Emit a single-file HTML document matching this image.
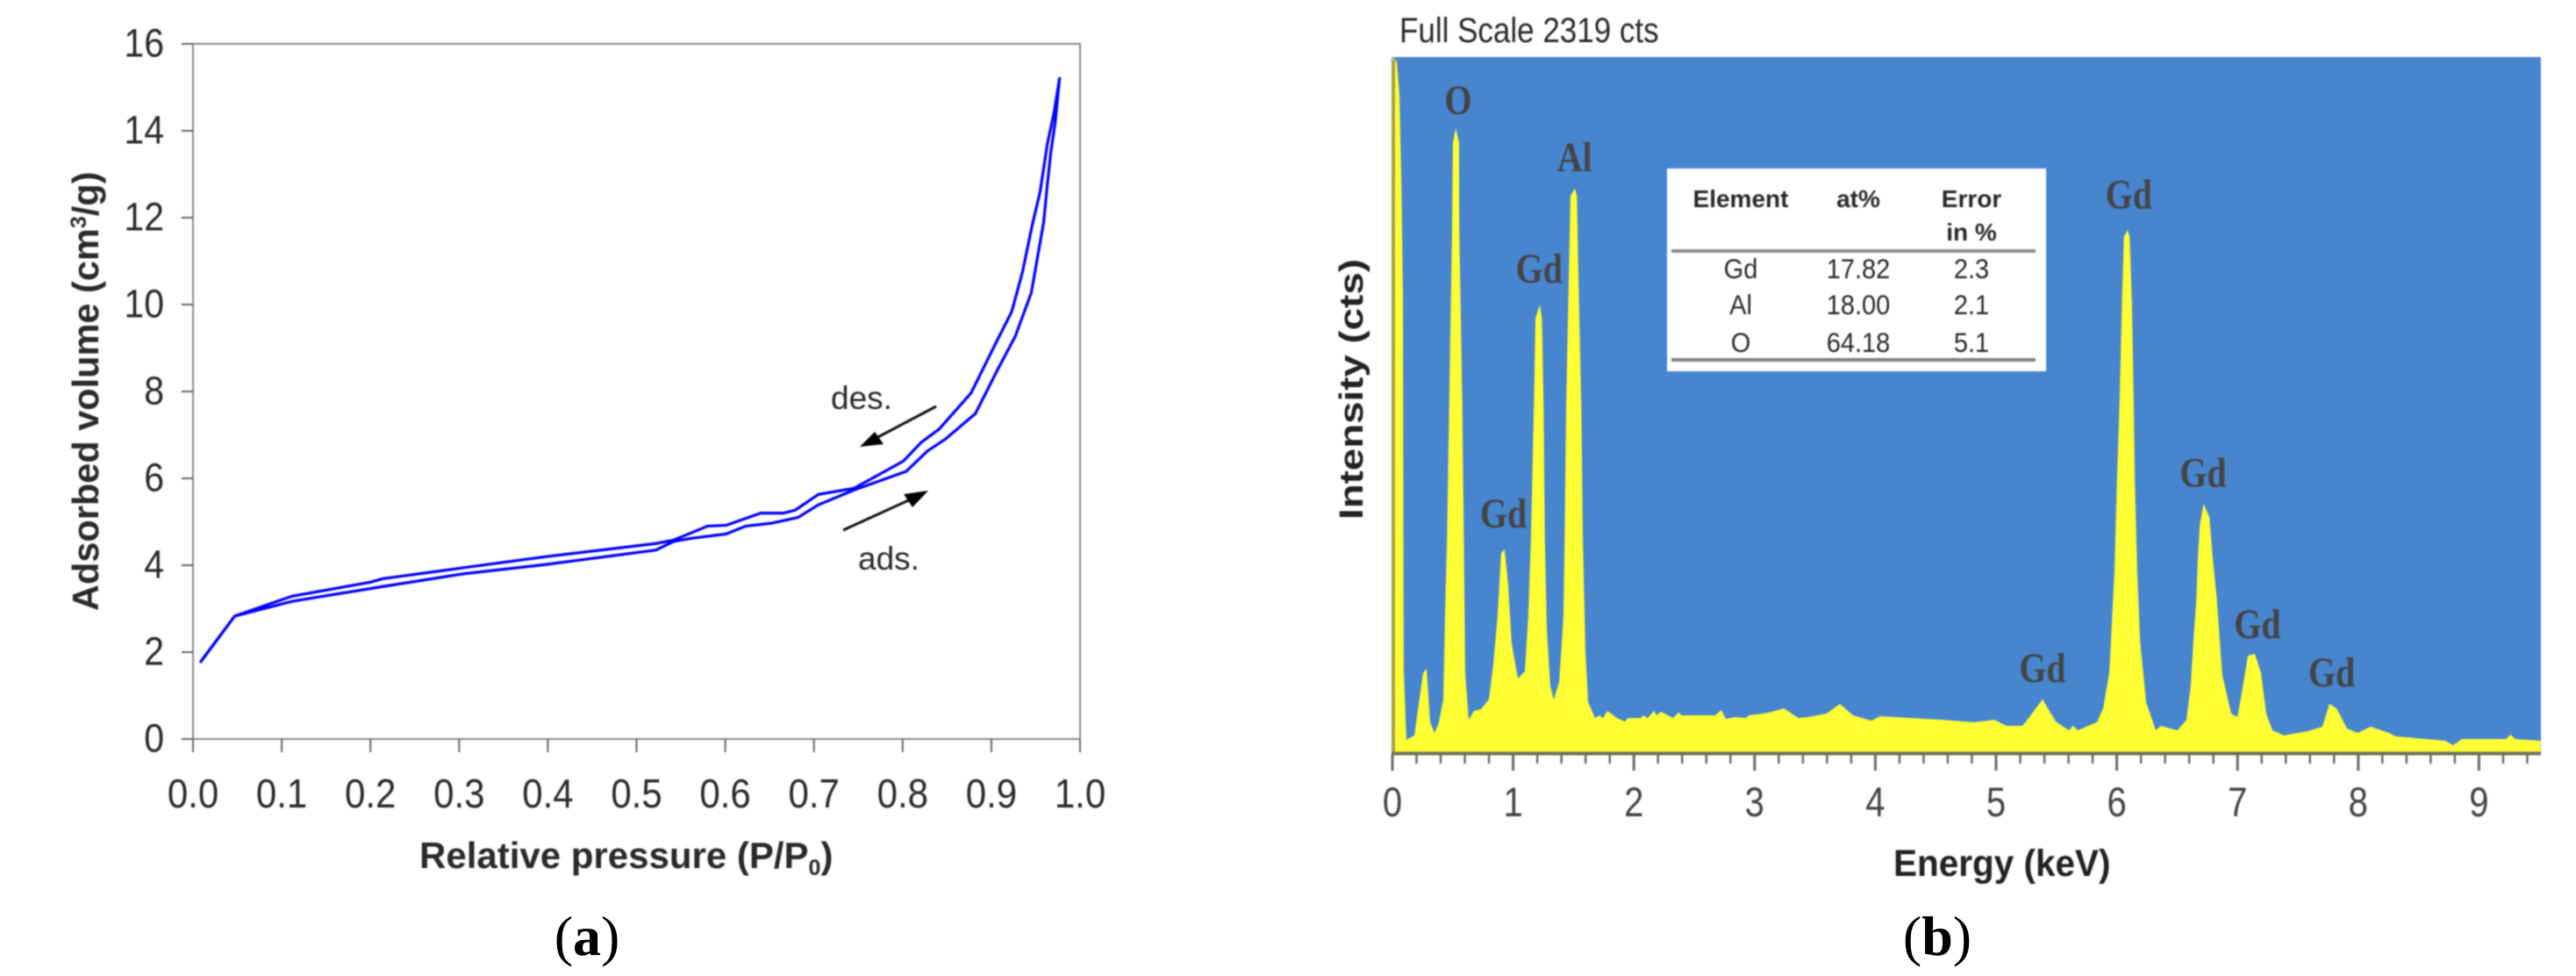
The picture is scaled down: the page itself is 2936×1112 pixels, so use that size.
<!DOCTYPE html>
<html lang="en">
<head>
<meta charset="utf-8">
<title>Adsorption isotherm and EDX spectrum</title>
<style>
html,body{margin:0;padding:0;background:#fff;}
svg{display:block;}
.soft{filter:blur(0.7px);}
text{font-family:"Liberation Sans",Arial,sans-serif;}
.serif{font-family:"Liberation Serif","Times New Roman",serif;}
</style>
</head>
<body>
<svg id="figure" xmlns="http://www.w3.org/2000/svg" width="2936" height="1112" viewBox="0 0 2936 1112">
  <rect x="0" y="0" width="2936" height="1112" fill="#ffffff"/>

  <g id="panelA" class="soft">
    <text transform="translate(112,696) rotate(-90)" font-size="41.5" font-weight="700" fill="#2a2a2a">Adsorbed volume (cm<tspan font-size="25" dy="-14">3</tspan><tspan dy="14">/g)</tspan></text>
    <text x="478" y="989" font-size="42" font-weight="700" fill="#2a2a2a">Relative pressure (P/P<tspan font-size="25" dy="8">0</tspan><tspan dy="-8">)</tspan></text>
    <text x="947" y="466" font-size="37" fill="#2a2a2a">des.</text>
    <text x="978" y="649" font-size="37" fill="#2a2a2a">ads.</text>
    <line x1="1067" y1="463" x2="995" y2="501" stroke="#111" stroke-width="3"/>
    <polygon points="980,509 997,492 1007,506" fill="#000"/>
    <line x1="961" y1="604" x2="1040" y2="568" stroke="#111" stroke-width="3"/>
    <polygon points="1058,559 1030,563 1040,578" fill="#000"/>
  </g>

  <g id="panelB" class="soft">
    <text transform="translate(1595,48) scale(1,1.15)" font-size="35" fill="#2a2a2a">Full Scale 2319 cts</text>
    <text x="0" y="0" transform="translate(1553,592) rotate(-90)" font-size="38" font-weight="700" fill="#222" textLength="297" lengthAdjust="spacingAndGlyphs">Intensity (cts)</text>
    <text transform="translate(2158,998) scale(1,1.05)" font-size="40.5" font-weight="700" fill="#222">Energy (keV)</text>
  </g>

  <text class="serif" x="669" y="1088" text-anchor="middle" font-size="64" fill="#000">(<tspan font-weight="700">a</tspan>)</text>
  <text class="serif" x="2208" y="1088" text-anchor="middle" font-size="64" fill="#000">(<tspan font-weight="700">b</tspan>)</text>
</svg>

<script>
// ---------- Isotherm data (panel a) ----------
const adsPressure = [0.008,0.047,0.112,0.214,0.304,0.399,0.522,0.542,0.562,0.601,0.623,0.653,0.682,0.705,0.745,0.804,0.828,0.848,0.882,0.907,0.927,0.945,0.953,0.959,0.963,0.967,0.972,0.977];
const adsVolume   = [1.76,2.83,3.17,3.51,3.80,4.02,4.35,4.55,4.62,4.72,4.90,4.97,5.10,5.39,5.73,6.16,6.63,6.90,7.49,8.50,9.27,10.27,11.20,11.90,12.74,13.50,14.20,15.23];
const desPressure = [0.008,0.047,0.112,0.200,0.214,0.304,0.399,0.522,0.542,0.580,0.601,0.640,0.666,0.679,0.705,0.745,0.771,0.801,0.821,0.841,0.877,0.903,0.923,0.935,0.946,0.955,0.963,0.971,0.977];
const desVolume   = [1.76,2.83,3.29,3.61,3.69,3.94,4.20,4.50,4.58,4.90,4.92,5.20,5.20,5.27,5.63,5.77,6.06,6.40,6.83,7.13,7.96,9.03,9.84,10.74,11.82,12.60,13.68,14.45,15.23];
const pressureTicks = ["0.0","0.1","0.2","0.3","0.4","0.5","0.6","0.7","0.8","0.9","1.0"];
const volumeTicks = ["0","2","4","6","8","10","12","14","16"];

// ---------- EDX spectrum data (panel b) ----------
const energyKeV = [0,.036,.058,.076,.087,.091,.094,.116,.182,.203,.254,.283,.313,.349,.385,.422,.436,.453,.470,.482,.494,.501,.525,.552,.554,.567,.579,.591,.603,.632,.676,.734,.799,.836,.872,.901,.93,.959,.988,1.039,1.097,1.126,1.148,1.172,1.185,1.221,1.238,1.252,1.262,1.279,1.308,1.337,1.381,1.403,1.417,1.427,1.439,1.459,1.475,1.512,1.528,1.543,1.565,1.577,1.599,1.621,1.679,1.715,1.744,1.781,1.86,1.926,1.948,2.057,2.078,2.115,2.166,2.188,2.224,2.326,2.369,2.398,2.674,2.725,2.762,2.834,2.929,2.951,3.074,3.147,3.241,3.365,3.438,3.597,3.706,3.815,3.968,4.041,4.557,4.818,4.985,5.087,5.218,5.276,5.385,5.494,5.603,5.64,5.676,5.836,5.887,5.938,5.952,5.981,6.001,6.025,6.042,6.059,6.09,6.107,6.126,6.139,6.15,6.169,6.193,6.243,6.323,6.366,6.504,6.577,6.613,6.635,6.659,6.672,6.689,6.72,6.768,6.793,6.829,6.853,6.875,6.948,6.999,7.035,7.086,7.144,7.195,7.238,7.289,7.384,7.58,7.703,7.762,7.82,7.907,7.994,8.103,8.256,8.307,8.721,8.786,8.859,9.229,9.259,9.302,9.51];
const intensityCts = [2319,2304,2196,1865,1514,752,275,41,56,117,264,278,100,64,100,176,460,723,1154,1446,1739,2032,2082,2032,1739,1446,1154,723,264,108,138,143,176,293,460,665,676,556,363,246,269,460,723,1154,1446,1493,1446,1154,723,410,220,176,234,363,457,723,1154,1543,1856,1880,1856,1543,1154,723,334,167,114,123,114,138,114,102,114,114,123,114,138,123,135,114,132,123,123,141,111,117,114,123,129,135,146,114,117,129,161,123,105,120,108,100,108,88,88,117,176,102,73,88,73,100,146,266,372,606,899,1192,1485,1719,1742,1719,1485,1192,899,606,372,167,73,88,73,108,225,372,509,656,761,829,782,656,509,372,255,129,117,196,322,328,264,129,73,56,70,85,161,146,79,64,85,64,53,38,23,44,44,59,44,38];
const energyTicks = ["0","1","2","3","4","5","6","7","8","9"];
const peakNames = ["O","Al","Gd","Gd","Gd","Gd","Gd","Gd","Gd"];
const peakEnergies = [0.545,1.51,1.215,0.92,5.385,6.10,6.715,7.165,7.78];
const peakLabelCts = [2129,1938,1567,750,234,1814,885,381,220];
const tableHeaders = ["Element","at%","Error"];
const tableElements = ["Gd","Al","O"];
const tableAtomic = ["17.82","18.00","64.18"];
const tableError = ["2.3","2.1","5.1"];

// ---------- Helpers ----------
const SVGNS = "http://www.w3.org/2000/svg";
function mk(tag, parent, props){
  const el = document.createElementNS(SVGNS, tag);
  for (const k in props) el.setAttribute(k, props[k]);
  parent.appendChild(el);
  return el;
}

// ---------- Panel A ----------
const panelA = document.getElementById("panelA");
const xA = p => 220 + p * 1011;
const yA = v => 842 - v * 49.5;

const frameA = mk("rect", panelA, {x:xA(0), y:yA(16), width:xA(1)-xA(0), height:yA(0)-yA(16), fill:"none", stroke:"#8a8a8a", "stroke-width":2});



volumeTicks.forEach(t => {
  const v = parseFloat(t);
  const tick = mk("line", panelA, {x1:207, x2:xA(0), y1:yA(v), y2:yA(v), stroke:"#666", "stroke-width":2});
  
  
  const lab = mk("text", panelA, {transform:`translate(187,${yA(v)+14.5}) scale(1,1.1)`, "text-anchor":"end", "font-size":41, fill:"#2a2a2a"});
  
  
  lab.textContent = t;
});
pressureTicks.forEach(t => {
  const p = parseFloat(t);
  const tick = mk("line", panelA, {x1:xA(p), x2:xA(p), y1:yA(0), y2:857, stroke:"#666", "stroke-width":2});
  
  
  const lab = mk("text", panelA, {transform:`translate(${xA(p)},920) scale(1,1.1)`, "text-anchor":"middle", "font-size":42, fill:"#2a2a2a"});
  
  
  lab.textContent = t;
});

const adsLine = mk("polyline", panelA, {points:adsPressure.map((p,i)=>xA(p)+","+yA(adsVolume[i])).join(" "), fill:"none", stroke:"#0000ff", "stroke-width":3.2, "stroke-linejoin":"round"});


const desLine = mk("polyline", panelA, {points:desPressure.map((p,i)=>xA(p)+","+yA(desVolume[i])).join(" "), fill:"none", stroke:"#0000ff", "stroke-width":3.2, "stroke-linejoin":"round"});



// ---------- Panel B ----------
const panelB = document.getElementById("panelB");
const xB = e => 1587 + e * 137.6;
const yB = c => 857 - c * 792 / 2319;

const plotBg = mk("rect", panelB, {x:1586, y:65, width:1310, height:792, fill:"#4785cf"});



const areaPts = energyKeV.map((e,i)=>xB(e)+","+yB(intensityCts[i]));
areaPts.push(xB(energyKeV[energyKeV.length-1])+","+yB(0));
areaPts.push(xB(0)+","+yB(0));
const area = mk("polygon", panelB, {points:areaPts.join(" "), fill:"#ffff33"});



const leftStripe = mk("line", panelB, {x1:xB(0)+1, x2:xB(0)+1, y1:68, y2:yB(0), stroke:"#a8a040", "stroke-width":4});


const axisB = mk("line", panelB, {x1:1586, x2:2896, y1:858.5, y2:858.5, stroke:"#6f6f5a", "stroke-width":4});



for (let m = 0; m <= 47; m++) {
  const major = m % 5 === 0;
  const e = m / 5;
  const tick = mk("line", panelB, {x1:xB(e), x2:xB(e), y1:859, y2:major?878:870, stroke:"#6a6a6a", "stroke-width":major?3:2.5});
  
  
}
energyTicks.forEach(t => {
  const e = parseFloat(t);
  const lab = mk("text", panelB, {transform:`translate(${xB(e)},930) scale(1,1.18)`, "text-anchor":"middle", "font-size":40, fill:"#444"});
  
  
  lab.textContent = t;
});

peakNames.forEach((name,i) => {
  const lab = mk("text", panelB, {transform:`translate(${xB(peakEnergies[i])},${yB(peakLabelCts[i])}) scale(1,1.2)`, "text-anchor":"middle", "font-size":40, "font-weight":700, fill:"#444", class:"serif"});
  
  
  lab.textContent = name;
});

// Results table
const tableGroup = mk("g", panelB, {});


const tableBox = mk("rect", tableGroup, {x:1900, y:192, width:432, height:231, fill:"#ffffff"});


const colCenters = [1984, 2118, 2247];
tableHeaders.forEach((h,i) => {
  const t = mk("text", tableGroup, {x:colCenters[i], y:236, "text-anchor":"middle", "font-size":28, "font-weight":700, fill:"#2a2a2a"});
  
  
  t.textContent = h;
});
const hdr2 = mk("text", tableGroup, {x:2247, y:274, "text-anchor":"middle", "font-size":28, "font-weight":700, fill:"#2a2a2a"});


hdr2.textContent = "in %";
const rowBaselines = [317, 358, 401];
tableElements.forEach((el,i) => {
  [el, tableAtomic[i], tableError[i]].forEach((val,c) => {
    const t = mk("text", tableGroup, {transform:`translate(${colCenters[c]},${rowBaselines[i]}) scale(1,1.1)`, "text-anchor":"middle", "font-size":29, fill:"#2a2a2a"});
    
    
    t.textContent = val;
  });
});
const rule1 = mk("line", tableGroup, {x1:1905, x2:2320, y1:286, y2:286, stroke:"#8c8c8c", "stroke-width":4});


const rule2 = mk("line", tableGroup, {x1:1905, x2:2320, y1:410, y2:410, stroke:"#808080", "stroke-width":4});


</script>
</body>
</html>
